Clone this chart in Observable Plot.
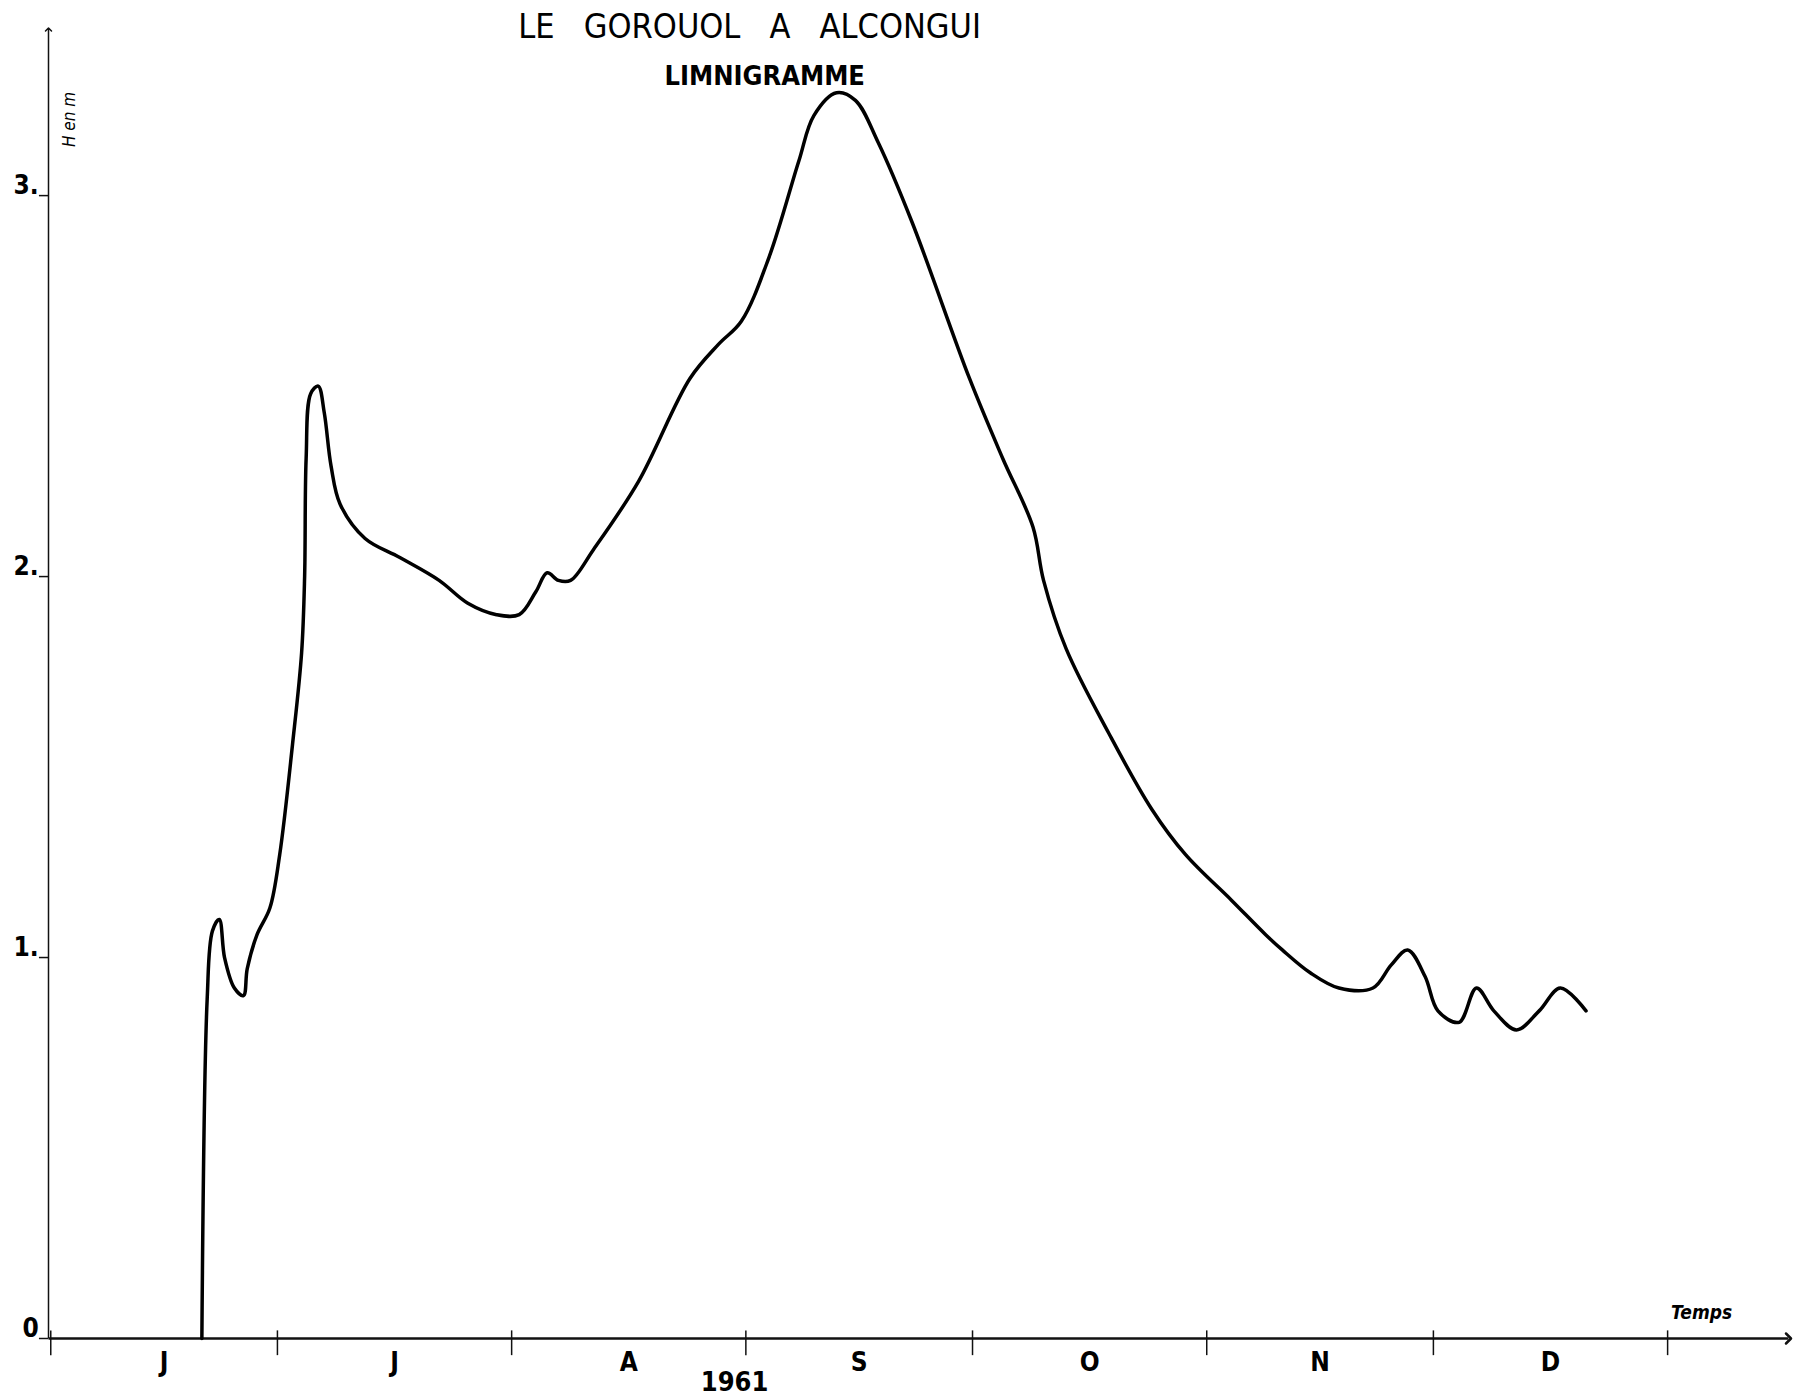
<!DOCTYPE html>
<html><head><meta charset="utf-8">
<script src="https://cdn.jsdelivr.net/npm/d3@7"></script>
<script src="https://cdn.jsdelivr.net/npm/@observablehq/plot@0.6"></script>
<style>body{margin:0;background:#fff}</style>
</head><body><div id="c"></div>
<script>
// days since 1 June 1961
const days = [20,20.7,21.4,22.3,23,24.3,25.5,26,27.3,29,30.3,32,33.2,33.6,33.8,34.4,35.4,36.2,37.1,38.3,41.6,46.2,51.4,55.2,59,62,64.2,65.7,67.2,68.8,71.8,77.8,84.6,88.4,91.4,95.1,99,101,104,106.5,109.5,114,121.6,126,130,131.4,134.4,140,145.7,150.2,156.3,160.8,163,166.7,170.5,175,177.4,179.6,181.9,183.6,186.4,188.7,191,194,197,199.8,203.2];
const heights = [0,0.89,1.07,1.1,1.0,0.92,0.9,0.97,1.06,1.13,1.27,1.56,1.8,2.0,2.31,2.48,2.5,2.43,2.29,2.19,2.1,2.05,1.99,1.93,1.9,1.9,1.96,2.01,1.99,1.99,2.07,2.25,2.52,2.61,2.67,2.84,3.09,3.21,3.27,3.25,3.14,2.93,2.52,2.31,2.13,1.99,1.81,1.59,1.39,1.27,1.15,1.06,1.02,0.96,0.92,0.92,0.98,1.02,0.95,0.86,0.83,0.92,0.86,0.81,0.86,0.92,0.86];
const monthStarts = [0,30,61,92,122,153,183,214];
const monthLabels = ["J","J","A","S","O","N","D"];
const yTicks = [0,1,2,3];
const yTickLabels = ["0","1.","2.","3."];
const data = days.map((d,i)=>({d,h:heights[i]}));
const mids = monthLabels.map((m,i)=>({m,x:(monthStarts[i]+monthStarts[i+1])/2}));
const font = "DejaVu Sans Condensed";
const chart = Plot.plot({
  width:1798, height:1397, marginLeft:48, marginRight:10, marginTop:29, marginBottom:59,
  x:{domain:[-0.3,230], axis:null}, y:{domain:[0,3.436], axis:null},
  style:{fontFamily:font, background:"#fff", color:"#000", overflow:"visible"},
  marks:[
    Plot.link([{x1:-0.3,y1:0,x2:230,y2:0}],{x1:"x1",y1:"y1",x2:"x2",y2:"y2",stroke:"#111",strokeWidth:2.5,markerEnd:"arrow"}),
    Plot.link([{x1:-0.3,y1:0,x2:-0.3,y2:3.436}],{x1:"x1",y1:"y1",x2:"x2",y2:"y2",stroke:"#111",strokeWidth:1.5,markerEnd:"arrow"}),
    Plot.ruleX(monthStarts,{x:d=>d,y1:0.02,y2:-0.045,stroke:"#111",strokeWidth:1.5}),
    Plot.ruleY(yTicks,{y:d=>d,x1:-1.5,x2:-0.3,stroke:"#111",strokeWidth:1.5}),
    Plot.text(yTicks,{y:d=>d,x:-1.6,text:(d,i)=>yTickLabels[i],textAnchor:"end",dy:-10,fontSize:26,fontWeight:"bold"}),
    Plot.text(mids,{x:"x",y:0,text:"m",dy:24,fontSize:26,fontWeight:"bold"}),
    Plot.line(data,{x:"d",y:"h",curve:"catmull-rom",stroke:"#000",strokeWidth:3.5}),
    Plot.text(["LE   GOROUOL   A   ALCONGUI"],{frameAnchor:"top",x:92.5,dy:-16,fontSize:34,text:d=>d,letterSpacing:4}),
    Plot.text(["LIMNIGRAMME"],{frameAnchor:"top",x:94.5,dy:36,fontSize:27,fontWeight:"bold",text:d=>d}),
    Plot.text(["1961"],{x:90.5,y:0,dy:44,fontSize:27,fontWeight:"bold",text:d=>d}),
    Plot.text(["Temps"],{x:218.5,y:0,dy:-26,fontSize:19,fontStyle:"italic",fontWeight:"bold",text:d=>d}),
    Plot.text(["H en m"],{x:2.5,y:3.2,fontSize:17,fontStyle:"italic",rotate:-90,text:d=>d})
  ]
});
document.getElementById("c").append(chart);
</script></body></html>
